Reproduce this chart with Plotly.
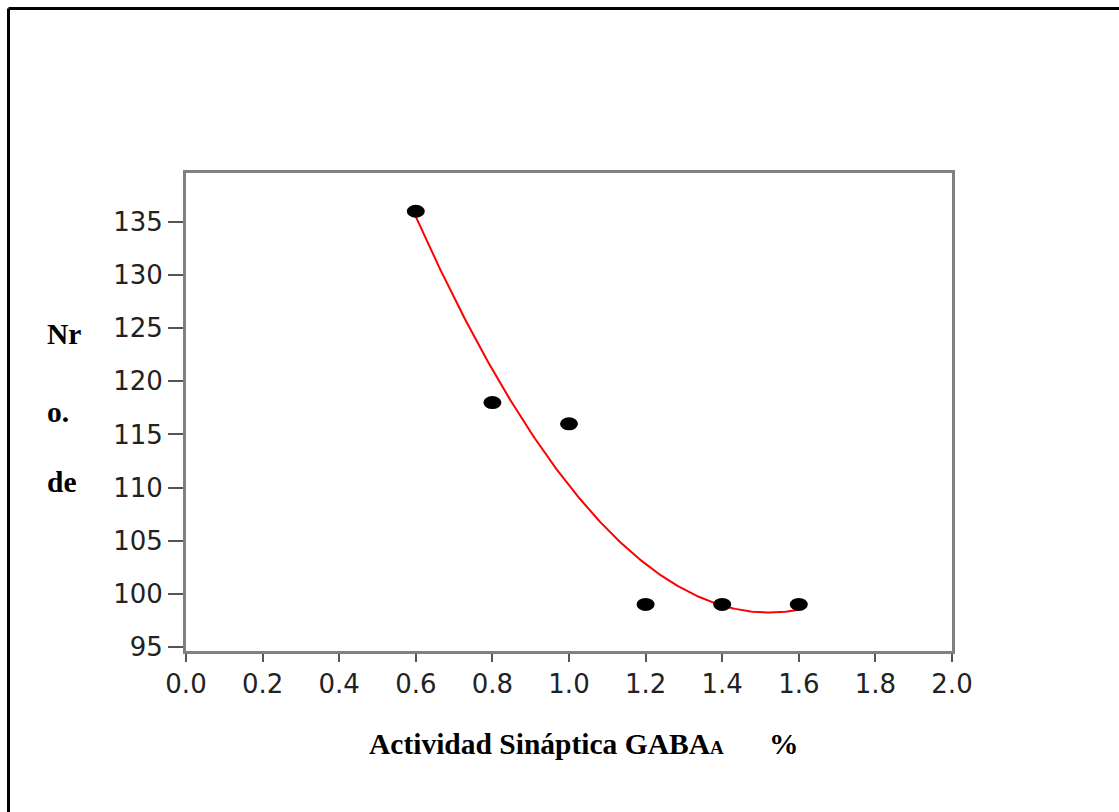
import numpy as np
import plotly.graph_objects as go

# Data points
actividad = [0.6, 0.8, 1.0, 1.2, 1.4, 1.6]
numero = [136, 118, 116, 99, 99, 99]

x_ticks = [0.0, 0.2, 0.4, 0.6, 0.8, 1.0, 1.2, 1.4, 1.6, 1.8, 2.0]
y_ticks = [95, 100, 105, 110, 115, 120, 125, 130, 135]

W, H = 1119, 812
L, R, T, B = 186, 952, 173, 651  # plot area in pixels


def px(xp):
    return (xp - L) / (R - L)


def py(yp):
    return (B - yp) / (B - T)


# Second-order polynomial trend line through the points
coef = np.polyfit(actividad, numero, 2)
xf = np.linspace(min(actividad), max(actividad), 200)
yf = np.polyval(coef, xf)

fig = go.Figure()
fig.add_trace(go.Scatter(x=xf, y=yf, mode="lines",
                         line=dict(color="#ff0000", width=2),
                         hoverinfo="skip", showlegend=False))
# invisible trace so hover still works on the points
fig.add_trace(go.Scatter(x=actividad, y=numero, mode="markers",
                         marker=dict(size=14, color="rgba(0,0,0,0)"),
                         showlegend=False))

shapes = []
# elliptical point markers anchored at the data values
for xv, yv in zip(actividad, numero):
    shapes.append(dict(type="circle", xref="x", yref="y",
                       xsizemode="pixel", ysizemode="pixel",
                       xanchor=xv, yanchor=yv,
                       x0=-9, x1=9, y0=-6.5, y1=6.5,
                       fillcolor="black", line=dict(width=0)))

# frame lines along the top and left of the page
shapes.append(dict(type="line", xref="paper", yref="paper", layer="above",
                   x0=px(8.5), x1=px(W + 20), y0=py(8.5), y1=py(8.5),
                   line=dict(color="black", width=3)))
shapes.append(dict(type="line", xref="paper", yref="paper", layer="above",
                   x0=px(8.5), x1=px(8.5), y0=py(8.5), y1=py(H + 20),
                   line=dict(color="black", width=3)))

serif = dict(family="Liberation Serif, Times New Roman, serif", size=29.5, color="black")
annotations = []
for txt, ypos in [("<b>Nr</b>", 334), ("<b>o.</b>", 412), ("<b>de</b>", 482)]:
    annotations.append(dict(text=txt, xref="paper", yref="paper",
                            x=px(45), y=py(ypos), xanchor="left", yanchor="middle",
                            showarrow=False, font=serif))
annotations.append(dict(text="<b>Actividad Sináptica GABA<span style='font-size:19px'>A</span></b>",
                        xref="paper", yref="paper", x=px(367), y=py(744),
                        xanchor="left", yanchor="middle", showarrow=False, font=serif))
annotations.append(dict(text="<b>%</b>", xref="paper", yref="paper",
                        x=px(767), y=py(744), xanchor="left", yanchor="middle",
                        showarrow=False, font=serif))

tickfont = dict(family="DejaVu Sans, Verdana, sans-serif", size=26, color="#222222")

fig.update_layout(
    width=W, height=H,
    margin=dict(l=L, r=W - R, t=T, b=H - B, pad=0),
    paper_bgcolor="white", plot_bgcolor="white",
    shapes=shapes, annotations=annotations,
    showlegend=False,
    xaxis=dict(range=[0, 2], tickvals=x_ticks,
               ticktext=[f"{v:.1f}" for v in x_ticks],
               showgrid=False, zeroline=False,
               showline=True, linecolor="#808080", linewidth=3, mirror=True,
               ticks="outside", ticklen=8, tickwidth=2, tickcolor="#555555",
               tickfont=tickfont),
    yaxis=dict(range=[94.62, 139.6], tickvals=y_ticks,
               ticktext=[str(v) for v in y_ticks],
               showgrid=False, zeroline=False,
               showline=True, linecolor="#808080", linewidth=3, mirror=True,
               ticks="outside", ticklen=15, tickwidth=2, tickcolor="#555555",
               tickfont=tickfont),
)

fig.write_html("out.html")
